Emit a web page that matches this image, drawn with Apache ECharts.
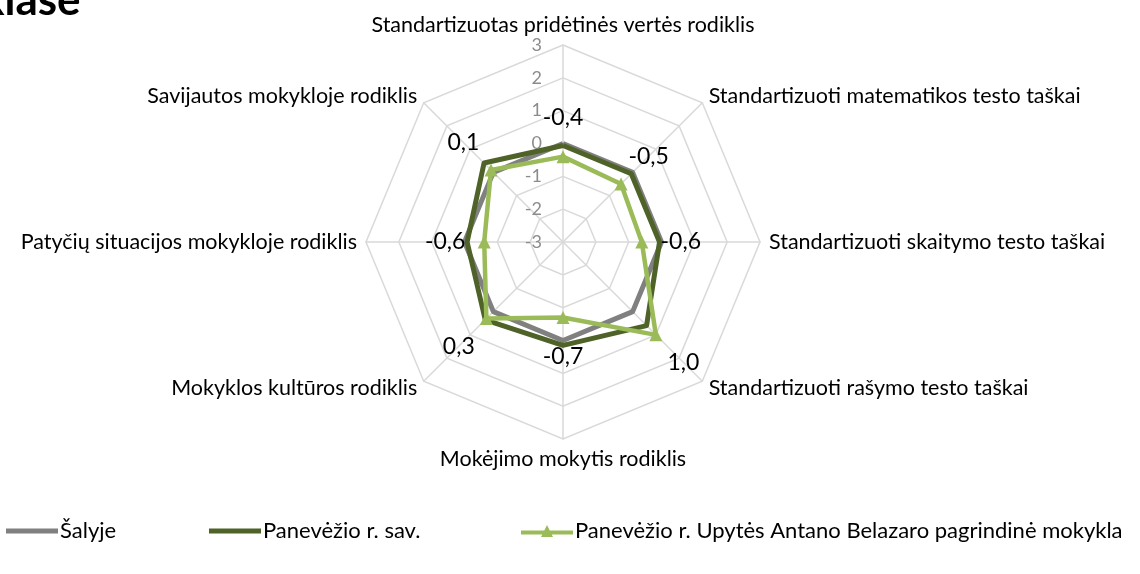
<!DOCTYPE html>
<html>
<head>
<meta charset="utf-8">
<script src="https://cdn.jsdelivr.net/npm/echarts@6/dist/echarts.min.js"></script>
<style>
  html, body { margin: 0; padding: 0; background: #fff; }
  #chart { width: 1140px; height: 574px; }
</style>
</head>
<body>
<div id="chart"></div>
<script>
// ---- data (Excel order: clockwise from top) ----
const categories = [
  'Standartizuotas pridėtinės vertės rodiklis',
  'Standartizuoti matematikos testo taškai',
  'Standartizuoti skaitymo testo taškai',
  'Standartizuoti rašymo testo taškai',
  'Mokėjimo mokytis rodiklis',
  'Mokyklos kultūros rodiklis',
  'Patyčių situacijos mokykloje rodiklis',
  'Savijautos mokykloje rodiklis'
];
const seriesNames = ['Šalyje', 'Panevėžio r. sav.', 'Panevėžio r. Upytės Antano Belazaro pagrindinė mokykla'];
const salyje = [0, 0, 0, 0, 0, 0, 0, 0];
const savivaldybe = [-0.06, -0.06, -0.06, 0.6, 0.15, 0.35, -0.08, 0.4];
const mokykla = [-0.4, -0.5, -0.6, 1.0, -0.7, 0.3, -0.6, 0.1];
const tickLabels = ['-3', '-2', '-1', '0', '1', '2', '3'];
const axisMin = -3, axisMax = 3;

// ---- layout ----
const CX = 563, CY = 242, R = 197;
const FONT = 'Lato, "Open Sans", sans-serif';

// ECharts radar places indicators counter-clockwise; reorder to clockwise
function cw(arr) { return [arr[0]].concat(arr.slice(1).reverse()); }

const chart = echarts.init(document.getElementById('chart'));
const fmt = v => (Math.round(v * 10) / 10).toFixed(1).replace('.', ',');

const option = {
  animation: false,
  backgroundColor: '#fff',
  graphic: [{
    type: 'text', x: -19, y: -21,
    style: { text: 'klase', font: 'bold 44px ' + FONT, fill: '#000' }
  }],
  grid: { left: CX, top: CY - R, height: R, width: 1, show: false },
  xAxis: { type: 'value', show: false },
  yAxis: {
    type: 'value', min: axisMin, max: axisMax, interval: 1,
    axisLine: { show: false }, axisTick: { show: false }, splitLine: { show: false },
    axisLabel: {
      margin: 21, color: '#8c8c8c', fontSize: 18, fontFamily: FONT,
      formatter: v => tickLabels[Math.round(v - axisMin)]
    }
  },
  legend: [0, 1, 2].map(i => ({
    data: [seriesNames[i]],
    left: [6, 209, 521][i],
    top: 520,
    itemWidth: 52,
    itemHeight: i === 2 ? 14 : 5,
    icon: i === 2 ? 'path://M0,5.5L52,5.5L52,9.5L0,9.5Z M26,0L32,12L20,12Z' : 'rect',
    itemGap: 0,
    textStyle: { fontSize: 22, color: '#000', fontFamily: FONT, padding: [0, 0, 0, -3] },
    padding: 0
  })),
  radar: {
    center: [CX, CY],
    radius: R,
    startAngle: 90,
    splitNumber: 6,
    shape: 'polygon',
    indicator: cw(categories).map(n => ({ name: n, min: axisMin, max: axisMax })),
    axisName: { color: '#000', fontSize: 21.5, fontFamily: FONT },
    nameGap: 9,
    axisLine: { lineStyle: { color: '#d9d9d9', width: 1.5 } },
    splitLine: { lineStyle: { color: '#d9d9d9', width: 1.5 } },
    splitArea: { show: false },
    axisLabel: { show: false },
    axisTick: { show: false }
  },
  series: [{
    type: 'radar',
    symbol: 'none',
    z: 2,
    data: [
      { name: seriesNames[0], value: cw(salyje),
        lineStyle: { color: '#808080', width: 5 }, itemStyle: { color: '#808080' } }
    ]
  }, {
    type: 'radar',
    symbol: 'none',
    z: 3,
    data: [
      { name: seriesNames[1], value: cw(savivaldybe),
        lineStyle: { color: '#4f6228', width: 5 }, itemStyle: { color: '#4f6228' } }
    ]
  }, {
    type: 'radar',
    symbol: 'triangle',
    symbolSize: 13,
    z: 4,
    label: {
      show: true, position: 'inside', color: '#000', fontSize: 23, fontFamily: FONT,
      formatter: p => fmt(p.value)
    },
    labelLayout: function (params) {
      const r = params.rect;
      const x = r.x + r.width / 2, y = r.y + r.height / 2;
      const dx = x - CX, dy = y - CY;
      const len = Math.hypot(dx, dy) || 1;
      const D = 39;
      return { dx: dx / len * D, dy: dy / len * D };
    },
    data: [
      { name: seriesNames[2], value: cw(mokykla),
        lineStyle: { color: '#9bbb59', width: 4.5 }, itemStyle: { color: '#9bbb59' } }
    ]
  }]
};
chart.setOption(option);
</script>
</body>
</html>
